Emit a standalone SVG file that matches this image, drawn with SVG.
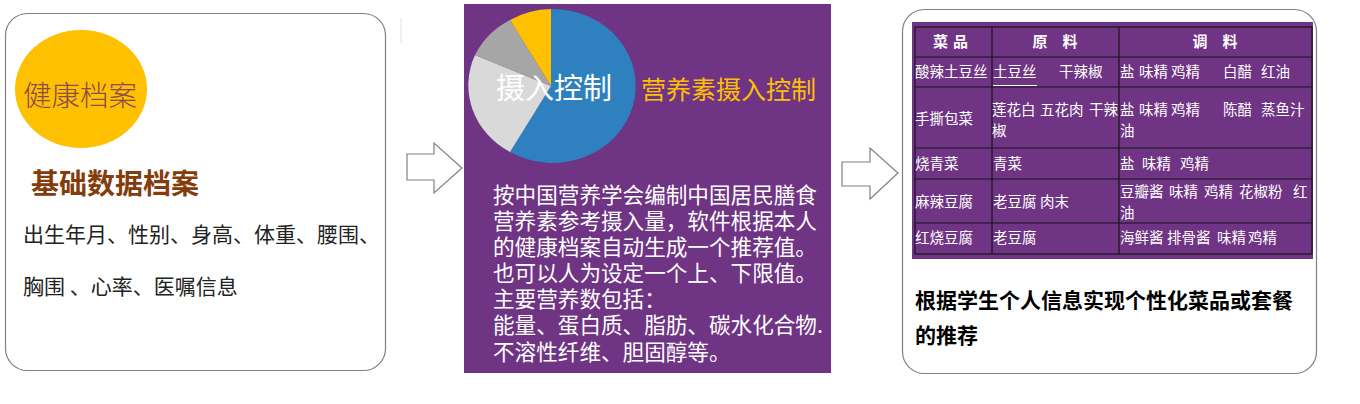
<svg xmlns="http://www.w3.org/2000/svg" width="1360" height="404" viewBox="0 0 1360 404">
<style>
.box{fill:#ffffff;stroke:#7f7f7f;stroke-width:1.2}
.cjk{font-family:"Noto Sans CJK SC","Noto Sans",sans-serif}
.cell{font-family:"Noto Sans CJK SC","Noto Sans",sans-serif;font-size:14.5px;fill:#ffffff}
.hdr{font-family:"Noto Sans CJK SC","Noto Sans",sans-serif;font-size:15px;font-weight:bold;fill:#ffffff}
.grid{stroke:#161616;stroke-width:1.2;fill:none}
.arrow{fill:#ffffff;stroke:#808080;stroke-width:1.2}
.body{font-family:"Noto Sans CJK SC","Noto Sans",sans-serif;font-size:21.6px;fill:#ffffff}
</style>
<rect width="1360" height="404" fill="#ffffff"/>

<g id="node-health">
<rect class="box" x="5.5" y="13.5" width="380" height="357" rx="22"/>
<ellipse cx="81" cy="89" rx="66" ry="59" fill="#FFC000"/>
<text class="cjk" x="80" y="106" font-size="28.5" fill="#8A4A4E" text-anchor="middle" font-weight="300">健康档案</text>
<text class="cjk" x="31" y="194" font-size="28" font-weight="bold" fill="#843C0C">基础数据档案</text>
<text class="cjk" x="23" y="242" font-size="21" fill="#222222">出生年月、性别、身高、体重、腰围、</text>
<text class="cjk" x="23" y="294" font-size="21" fill="#222222">胸围 、心率、医嘱信息</text>
</g>

<g id="node-intake">
<rect x="464" y="4" width="367" height="369" fill="#6F3484"/>
<path d="M551,86 L551,9 A83,77 0 1,1 510,152 Z" fill="#2E80BE"/>
<path d="M551,86 L510,152 A83,77 0 0,1 475,55 Z" fill="#D9D9D9"/>
<path d="M551,86 L475,55 A83,77 0 0,1 510,20 Z" fill="#A6A6A6"/>
<path d="M551,86 L510,20 A83,77 0 0,1 551,9 Z" fill="#FFC000"/>
<text class="cjk" x="554" y="99" font-size="29" fill="#ffffff" text-anchor="middle">摄入控制</text>
<text class="cjk" x="641" y="99" font-size="25" fill="#FFC000">营养素摄入控制</text>
<text class="body"><tspan x="493" y="203">按中国营养学会编制中国居民膳食</tspan><tspan x="493" y="229">营养素参考摄入量，软件根据本人</tspan><tspan x="493" y="255">的健康档案自动生成一个推荐值。</tspan><tspan x="493" y="281">也可以人为设定一个上、下限值。</tspan><tspan x="493" y="307">主要营养数包括：</tspan><tspan x="493" y="333">能量、蛋白质、脂肪、碳水化合物.</tspan><tspan x="493" y="360">不溶性纤维、胆固醇等。</tspan></text>
</g>

<g id="node-menu">
<rect class="box" x="902.5" y="9.5" width="414" height="364" rx="22"/>
<rect x="912" y="22" width="401" height="237" fill="#6F3484"/>
<rect class="grid" x="915" y="27" width="397" height="227"/>
<path class="grid" d="M992,27V254M1119,27V254M915,57H1312M915,87H1312M915,148H1312M915,179H1312M915,223H1312"/>
<text class="hdr" x="953" y="47" text-anchor="middle" letter-spacing="5">菜品</text>
<text class="hdr" x="1055" y="47" text-anchor="middle">原　料</text>
<text class="hdr" x="1215" y="47" text-anchor="middle">调　料</text>

<text class="cell" x="915" y="77">酸辣土豆丝</text>
<text class="cell" y="77"><tspan x="993">土豆丝</tspan><tspan x="1059">干辣椒</tspan></text>
<line x1="993" y1="85.5" x2="1037" y2="85.5" stroke="#ffffff" stroke-width="1"/>
<text class="cell" y="77"><tspan x="1120">盐</tspan><tspan x="1139">味精</tspan><tspan x="1171">鸡精</tspan><tspan x="1223">白醋</tspan><tspan x="1261">红油</tspan></text>

<text class="cell" x="915" y="124">手撕包菜</text>
<text class="cell"><tspan x="992" y="114.5">莲花白</tspan><tspan x="1040" y="114.5">五花肉</tspan><tspan x="1089" y="114.5">干辣</tspan></text>
<text class="cell" x="992" y="135.5">椒</text>
<text class="cell"><tspan x="1120" y="114.5">盐</tspan><tspan x="1139" y="114.5">味精</tspan><tspan x="1171" y="114.5">鸡精</tspan><tspan x="1223" y="114.5">陈醋</tspan><tspan x="1261" y="114.5">蒸鱼汁</tspan></text>
<text class="cell" x="1120" y="135.5">油</text>

<text class="cell" x="915" y="169">烧青菜</text>
<text class="cell" x="993" y="169">青菜</text>
<text class="cell" y="169"><tspan x="1120">盐</tspan><tspan x="1142">味精</tspan><tspan x="1180">鸡精</tspan></text>

<text class="cell" x="915" y="207">麻辣豆腐</text>
<text class="cell" y="207"><tspan x="993">老豆腐</tspan><tspan x="1040">肉末</tspan></text>
<text class="cell"><tspan x="1120" y="197">豆瓣酱</tspan><tspan x="1169" y="197">味精</tspan><tspan x="1204" y="197">鸡精</tspan><tspan x="1239" y="197">花椒粉</tspan><tspan x="1293" y="197">红</tspan></text>
<text class="cell" x="1120" y="218">油</text>

<text class="cell" x="915" y="243">红烧豆腐</text>
<text class="cell" x="993" y="243">老豆腐</text>
<text class="cell" y="243"><tspan x="1120">海鲜酱</tspan><tspan x="1167">排骨酱</tspan><tspan x="1217">味精</tspan><tspan x="1248">鸡精</tspan></text>

<text class="cjk" font-size="21" font-weight="bold" fill="#000000"><tspan x="915" y="308">根据学生个人信息实现个性化菜品或套餐</tspan><tspan x="915" y="343">的推荐</tspan></text>
</g>

<g id="connectors">
<polygon class="arrow" points="407,154 434,154 434,143 462,168 434,193 434,180 407,180"/>
<polygon class="arrow" points="842,162 870,162 870,148 898,173 870,199 870,186 842,186"/>
<line x1="401" y1="18" x2="401" y2="43" stroke="#e0e0e0" stroke-width="1"/>
</g>
</svg>
